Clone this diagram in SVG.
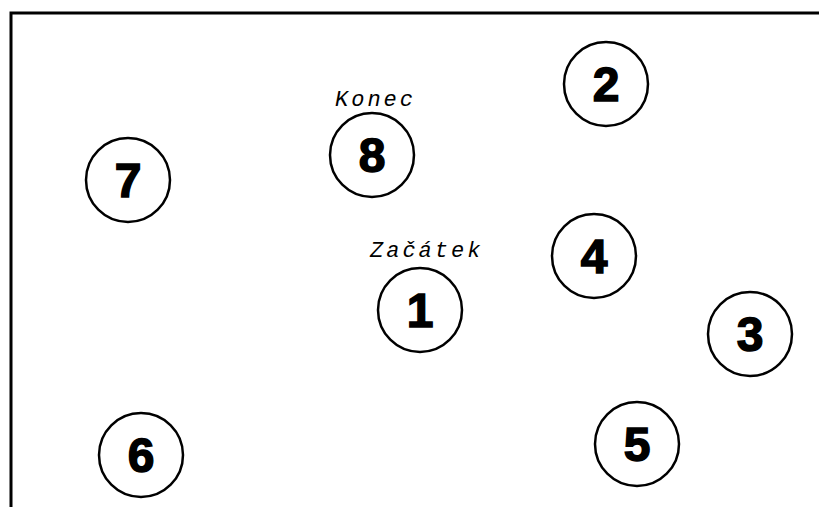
<svg xmlns="http://www.w3.org/2000/svg" width="819" height="507" viewBox="0 0 819 507">
<style>
.frame{fill:none;stroke:#000;stroke-width:3}
.ring{fill:none;stroke:#000;stroke-width:2.5}
.num{font-family:"Liberation Sans",Arial,sans-serif;font-weight:bold;font-size:48px;text-anchor:middle;fill:#000;stroke:#000;stroke-width:1.5}
.lbl{font-family:"Liberation Mono","Courier New",monospace;font-style:italic;font-size:22px;letter-spacing:3px;fill:#000}
</style>
<rect width="819" height="507" fill="#fff"/>
<path class="frame" d="M11,507 V13 H819"/>
<g id="connectors"></g>
<g id="n1"><circle class="ring" cx="420" cy="310" r="42"/><text class="num" x="420" y="327">1</text></g>
<g id="n2"><circle class="ring" cx="606" cy="84" r="42"/><text class="num" x="606" y="101">2</text></g>
<g id="n3"><circle class="ring" cx="750" cy="334" r="42"/><text class="num" x="750" y="351">3</text></g>
<g id="n4"><circle class="ring" cx="594" cy="256" r="42"/><text class="num" x="594" y="273">4</text></g>
<g id="n5"><circle class="ring" cx="637" cy="444" r="42"/><text class="num" x="637" y="461">5</text></g>
<g id="n6"><circle class="ring" cx="141" cy="455" r="42"/><text class="num" x="141" y="472">6</text></g>
<g id="n7"><circle class="ring" cx="128" cy="180" r="42"/><text class="num" x="128" y="197">7</text></g>
<g id="n8"><circle class="ring" cx="372" cy="155" r="42"/><text class="num" x="372" y="172">8</text></g>
<g id="labels">
<text class="lbl" x="335" y="106">Konec</text>
<text class="lbl" x="370" y="257">Začátek</text>
</g>
</svg>
